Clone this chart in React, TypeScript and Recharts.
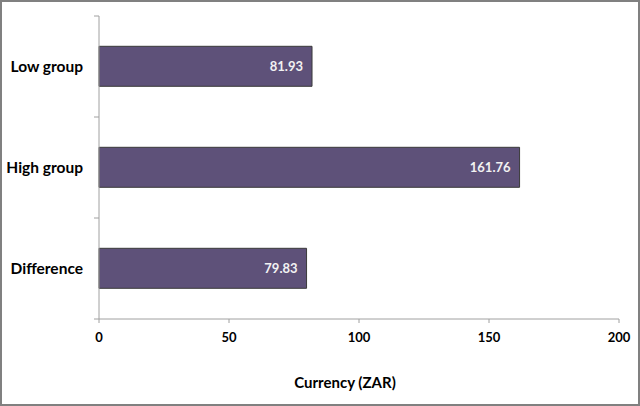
import React from "react";
import { BarChart, Bar, XAxis, YAxis, LabelList } from "recharts";

const categories = ["Low group", "High group", "Difference"];
const values = [81.93, 161.76, 79.83];
const xTicks = [0, 50, 100, 150, 200];

const FONT = "Lato, 'Open Sans', sans-serif";
const AXIS_GREY = "#a0a0a0";

const W = 640;
const H = 406;
const MARGIN = { top: 16, right: 21, left: 0, bottom: 0 };
const Y_AXIS_W = 99;
const X_AXIS_H = 87;
const BAND = (H - MARGIN.top - MARGIN.bottom - X_AXIS_H) / categories.length;

const data = categories.map((name, i) => ({ name, value: values[i] }));

// category label plus Excel-style tick marks on the band edges
function CategoryTick(props: any) {
  const { x, y, payload, index } = props;
  const ax = MARGIN.left + Y_AXIS_W;
  return (
    <g>
      <line x1={ax - 5} x2={ax} y1={y - BAND / 2} y2={y - BAND / 2} stroke={AXIS_GREY} />
      {index === categories.length - 1 && (
        <line x1={ax - 5} x2={ax} y1={y + BAND / 2} y2={y + BAND / 2} stroke={AXIS_GREY} />
      )}
      <text
        x={x}
        y={y}
        dy="0.355em"
        textAnchor="end"
        fontSize={15.5}
        fontFamily={FONT}
        fontWeight={700}
        fill="#000"
      >
        {payload.value}
      </text>
    </g>
  );
}

export default function App() {
  return (
    <div style={{ position: "absolute", left: 0, top: 0, width: W, height: H, background: "#fff" }}>
      <BarChart
        width={W}
        height={H}
        data={data}
        layout="vertical"
        margin={MARGIN}
        barCategoryGap="30%"
      >
        <YAxis
          type="category"
          dataKey="name"
          width={Y_AXIS_W}
          axisLine={{ stroke: AXIS_GREY }}
          tickLine={false}
          tickSize={0}
          tickMargin={16}
          tick={<CategoryTick />}
        />
        <XAxis
          type="number"
          domain={[0, 200]}
          ticks={xTicks}
          height={X_AXIS_H}
          axisLine={{ stroke: AXIS_GREY }}
          tickLine={{ stroke: AXIS_GREY }}
          tickSize={4}
          tickMargin={10}
          tick={{ fontSize: 13, fontFamily: FONT, fontWeight: 700, fill: "#000" }}
          label={{
            value: "Currency (ZAR)",
            position: "insideBottom",
            offset: 18,
            dx: -14,
            style: { fontSize: 15, fontFamily: FONT, fontWeight: 700, fill: "#000" },
          }}
        />
        <Bar
          dataKey="value"
          fill="#5e5179"
          stroke="#3a3a3a"
          strokeWidth={1}
          isAnimationActive={false}
        >
          <LabelList
            dataKey="value"
            position="insideRight"
            offset={9}
            formatter={(v: number) => v.toFixed(2)}
            style={{ fontSize: 13, fontFamily: FONT, fontWeight: 700, fill: "#f2f2f2" }}
          />
        </Bar>
      </BarChart>
      <div
        style={{
          position: "absolute",
          left: 0,
          top: 0,
          width: W,
          height: H,
          boxSizing: "border-box",
          border: "2px solid #808080",
          pointerEvents: "none",
        }}
      />
    </div>
  );
}
